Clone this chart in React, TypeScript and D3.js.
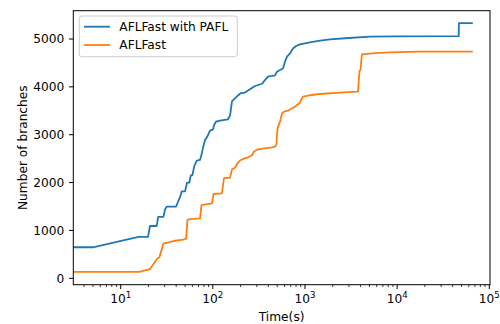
import React from "react";
import * as d3 from "d3";

// ---- data (time in seconds, number of branches) ----
const pafl_time = [3.06, 5, 15.6, 19.8, 20.8, 24.6, 25.5, 29.1, 30.3, 31.6, 39.9, 44.1, 46, 49.9, 52.5, 55.6, 57.6, 59.9, 63, 66.9, 72.6, 75.8, 77.6, 82.3, 86.5, 93.3, 100.5, 103, 108.3, 119.7, 146, 153.7, 161.5, 174, 187.6, 202, 223, 253, 287, 342, 368, 397, 439, 473, 497, 536, 577, 607, 638, 688, 741, 799, 883, 1000, 1133, 1455, 1868, 2716, 5072, 10000, 46600, 46800, 64730];
const pafl_branches = [648, 648, 865, 865, 1093, 1093, 1285, 1285, 1441, 1496, 1500, 1700, 1815, 1815, 1997, 1997, 2150, 2150, 2350, 2460, 2472, 2600, 2700, 2890, 2950, 3084, 3110, 3203, 3272, 3293, 3322, 3400, 3700, 3760, 3820, 3870, 3880, 3949, 4018, 4065, 4140, 4212, 4227, 4240, 4317, 4352, 4385, 4526, 4630, 4700, 4800, 4854, 4889, 4910, 4931, 4965, 4994, 5015, 5048, 5055, 5060, 5330, 5330];

const afl_time = [3.06, 15.95, 20.8, 24.6, 26.3, 29.1, 37.3, 47.7, 51.3, 53, 56.4, 72.6, 75.3, 86.5, 97.9, 101.7, 125.4, 132, 153.7, 161.5, 174, 185, 197, 213, 241, 266, 280, 309, 368, 439, 473, 491, 497, 510, 536, 563, 592, 654, 723, 780, 819, 883, 904, 951, 1051, 1191, 1455, 2397, 3760, 3900, 4000, 4150, 5745, 8352, 17650, 64730];
const afl_branches = [132, 132, 190, 400, 440, 725, 779, 807, 827, 1215, 1235, 1250, 1530, 1550, 1567, 1761, 1776, 2090, 2102, 2275, 2310, 2403, 2460, 2493, 2528, 2570, 2650, 2695, 2716, 2737, 2750, 2800, 3030, 3168, 3272, 3448, 3482, 3502, 3552, 3586, 3621, 3669, 3725, 3794, 3809, 3830, 3851, 3878, 3899, 4330, 4352, 4680, 4705, 4722, 4735, 4735];

const seriesNames = ["AFLFast with PAFL", "AFLFast"];
const seriesColors = ["#1f77b4", "#ff7f0e"];
const yTicks = [0, 1000, 2000, 3000, 4000, 5000];
const xMajorExps = [1, 2, 3, 4, 5];
const xLabel = "Time(s)";
const yLabel = "Number of branches";

const W = 500, H = 324;
const L = 73.3, R = 490, T = 10.7, B = 284.7;
const FONT = "DejaVu Sans";
const FS = 12.2;

export default function App() {
  const x = d3.scaleLog().domain([3.06, 101800]).range([L, R]);
  const y = d3.scaleLinear().domain([-134, 5591]).range([B, T]);

  const series = [
    pafl_time.map((t, i) => [t, pafl_branches[i]] as [number, number]),
    afl_time.map((t, i) => [t, afl_branches[i]] as [number, number]),
  ];
  const line = d3
    .line<[number, number]>()
    .x((d) => x(d[0]))
    .y((d) => y(d[1]));

  // minor ticks
  const minor: number[] = [];
  for (let e = 0; e <= 5; e++) {
    for (let m = 2; m <= 9; m++) {
      const v = m * Math.pow(10, e);
      if (v >= 3.06 && v <= 101800) minor.push(v);
    }
  }

  return (
    <div style={{ position: "fixed", left: 0, top: 0 }}>
      <svg width={W} height={H} style={{ display: "block", background: "#fff" }} fontFamily={FONT}>
        <defs>
          <clipPath id="plot">
            <rect x={L} y={T} width={R - L} height={B - T} />
          </clipPath>
        </defs>
        <rect x={0} y={0} width={W} height={H} fill="#fff" />
        <g clipPath="url(#plot)">
          {series.map((s, i) => (
            <path key={i} d={line(s) || ""} fill="none" stroke={seriesColors[i]} strokeWidth={1.8} strokeLinejoin="round" strokeLinecap="square" />
          ))}
        </g>
        {/* spines */}
        <rect x={L} y={T} width={R - L} height={B - T} fill="none" stroke="#000" strokeWidth={1} />
        {/* y ticks */}
        {yTicks.map((v) => (
          <g key={v}>
            <line x1={L - 4.3} x2={L} y1={y(v)} y2={y(v)} stroke="#000" strokeWidth={1} />
            <text x={L - 9} y={y(v)} dy="0.36em" textAnchor="end" fontSize={FS} fill="#000">
              {v}
            </text>
          </g>
        ))}
        {/* x minor ticks */}
        {minor.map((v) => (
          <line key={v} x1={x(v)} x2={x(v)} y1={B} y2={B + 2.4} stroke="#000" strokeWidth={0.75} />
        ))}
        {/* x major ticks */}
        {xMajorExps.map((e) => (
          <g key={e}>
            <line x1={x(Math.pow(10, e))} x2={x(Math.pow(10, e))} y1={B} y2={B + 4.3} stroke="#000" strokeWidth={1} />
            <text x={x(Math.pow(10, e))} y={303} textAnchor="middle" fontSize={FS} fill="#000">
              10
              <tspan fontSize={8.6} dy={-5}>
                {e}
              </tspan>
            </text>
          </g>
        ))}
        {/* axis labels */}
        <text x={(L + R) / 2} y={320.5} textAnchor="middle" fontSize={FS} fill="#000">
          {xLabel}
        </text>
        <text transform={`translate(26.5, ${(T + B) / 2}) rotate(-90)`} textAnchor="middle" fontSize={FS} fill="#000">
          {yLabel}
        </text>
        {/* legend */}
        <rect x={79.3} y={16} width={158} height={40.7} rx={2.5} fill="#fff" fillOpacity={0.8} stroke="#cccccc" strokeWidth={1} />
        {seriesNames.map((n, i) => (
          <g key={n}>
            <line x1={84} x2={110} y1={26.7 + i * 18.3} y2={26.7 + i * 18.3} stroke={seriesColors[i]} strokeWidth={1.8} />
            <text x={119.3} y={30.9 + i * 18.3} fontSize={FS} fill="#000">
              {n}
            </text>
          </g>
        ))}
      </svg>
    </div>
  );
}
